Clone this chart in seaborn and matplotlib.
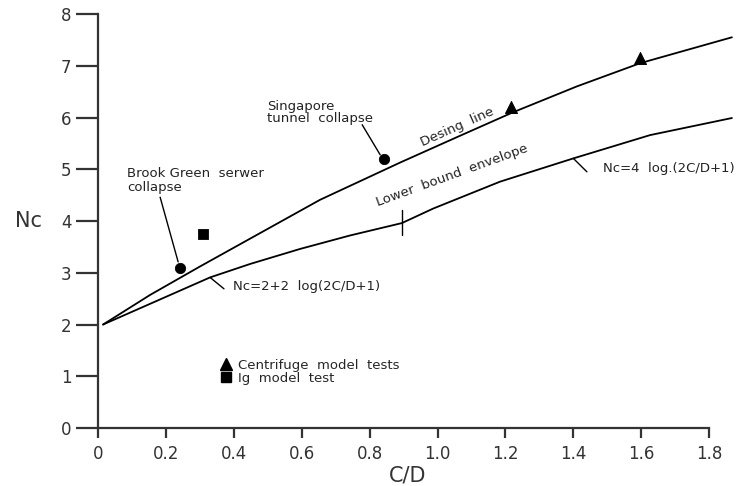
import numpy as np
import pandas as pd
import seaborn as sns
import matplotlib.pyplot as plt
from matplotlib.lines import Line2D

# curves (C/D, Nc)
design_cd = [0.015, 0.153, 0.30, 0.654, 0.89, 1.057, 1.222, 1.41, 1.597, 1.867]
design_nc = [2.0, 2.57, 3.12, 4.41, 5.13, 5.62, 6.10, 6.60, 7.05, 7.55]

lower_cd = [0.015, 0.33, 0.448, 0.595, 0.742, 0.895,
            0.987, 1.184, 1.40, 1.626, 1.867]
lower_nc = [2.0, 2.91, 3.17, 3.46, 3.72, 3.96,
            4.24, 4.76, 5.21, 5.66, 5.99]

# field cases and model tests
case_cd = [0.242, 0.843]
case_nc = [3.09, 5.20]
centrifuge_cd = [1.217, 1.597]
centrifuge_nc = [6.20, 7.15]
onegee_cd = [0.309]
onegee_nc = [3.75]

x_ticks = [0, 0.2, 0.4, 0.6, 0.8, 1.0, 1.2, 1.4, 1.6, 1.8]
x_labels = ["0", "0.2", "0.4", "0.6", "0.8", "1.0", "1.2", "1.4", "1.6", "1.8"]
y_ticks = list(range(0, 9))

sns.set_theme(style="white")
plt.rcParams['font.family'] = ['DejaVu Sans']

fig = plt.figure(figsize=(7.51, 4.86), dpi=100)
ax = fig.add_axes([0.1305, 0.1193, 0.859, 0.8519])

design = pd.DataFrame({"cd": design_cd, "nc": design_nc})
lower = pd.DataFrame({"cd": lower_cd, "nc": lower_nc})
sns.lineplot(data=design, x="cd", y="nc", sort=False, estimator=None,
             color="black", lw=1.3, ax=ax)
sns.lineplot(data=lower, x="cd", y="nc", sort=False, estimator=None,
             color="black", lw=1.3, ax=ax)

sns.scatterplot(x=case_cd, y=case_nc, marker="o", s=55, color="black",
                edgecolor="black", ax=ax, zorder=3)
sns.scatterplot(x=centrifuge_cd, y=centrifuge_nc, marker="^", s=75,
                color="black", edgecolor="black", ax=ax, zorder=3)
sns.scatterplot(x=onegee_cd, y=onegee_nc, marker="s", s=55, color="black",
                edgecolor="black", ax=ax, zorder=3)

ax.set_xlim(0, 1.9)
ax.set_ylim(0, 8)
ax.set_xticks(x_ticks)
ax.set_xticklabels(x_labels)
ax.set_yticks(y_ticks)

for s in ["top", "right"]:
    ax.spines[s].set_visible(False)
ax.spines["left"].set_bounds(0, 8)
ax.spines["bottom"].set_bounds(0, 1.8)
for s in ["left", "bottom"]:
    ax.spines[s].set_color("#333333")
    ax.spines[s].set_linewidth(1.6)

ax.tick_params(axis="y", direction="out", length=16, width=1.6,
               color="#333333", labelsize=12, labelcolor="#333333", pad=3,
               left=True)
ax.tick_params(axis="x", direction="out", length=7, width=1.6,
               color="#333333", labelsize=12, labelcolor="#333333", pad=5,
               bottom=True)

ax.set_xlabel("C/D", fontsize=15, color="#333333")
ax.xaxis.set_label_coords(0.48, -0.09)
ax.set_ylabel("Nc", fontsize=15, color="#333333", rotation=0,
              va="center", ha="center")
ax.yaxis.set_label_coords(-0.108, 0.5)

small = dict(fontsize=9.5, color="#222222")
lead = dict(arrowstyle="-", color="black", lw=1.0, shrinkA=0, shrinkB=0)

ax.text(0.085, 5.04, "Brook Green  serwer\ncollapse", va="top", ha="left",
        linespacing=1.05, **small)
ax.annotate("", xy=(0.236, 3.21), xytext=(0.183, 4.46), arrowprops=lead)

ax.text(0.497, 6.34, "Singapore\ntunnel  collapse", va="top", ha="left",
        linespacing=0.9, **small)
ax.annotate("", xy=(0.831, 5.28), xytext=(0.778, 5.86), arrowprops=lead)

ax.text(1.057, 5.82, "Desing  line", rotation=24, ha="center", va="center",
        rotation_mode="anchor", **small)
ax.text(1.043, 4.88, "Lower  bound  envelope", rotation=20, ha="center",
        va="center", rotation_mode="anchor", **small)

ax.text(0.398, 2.73, "Nc=2+2  log(2C/D+1)", ha="left", va="center", **small)
ax.annotate("", xy=(0.371, 2.69), xytext=(0.330, 2.91), arrowprops=lead)

ax.text(1.487, 5.02, "Nc=4  log.(2C/D+1)", ha="left", va="center", **small)
ax.annotate("", xy=(1.440, 4.95), xytext=(1.40, 5.21), arrowprops=lead)

# divider between the two branches of the lower bound
ax.plot([0.895, 0.895], [3.73, 4.21], color="black", lw=1.0)

handles = [Line2D([], [], marker="^", ls="", color="black", markersize=8),
           Line2D([], [], marker="s", ls="", color="black", markersize=7)]
ax.legend(handles, ["Centrifuge  model  tests", "Ig  model  test"],
          loc="upper left", bbox_to_anchor=(0.19, 0.167), frameon=False,
          handlelength=0.8, handletextpad=0.5, labelspacing=0.0,
          borderpad=0, borderaxespad=0, fontsize=9.5)

fig.savefig("out.png", dpi=100)
